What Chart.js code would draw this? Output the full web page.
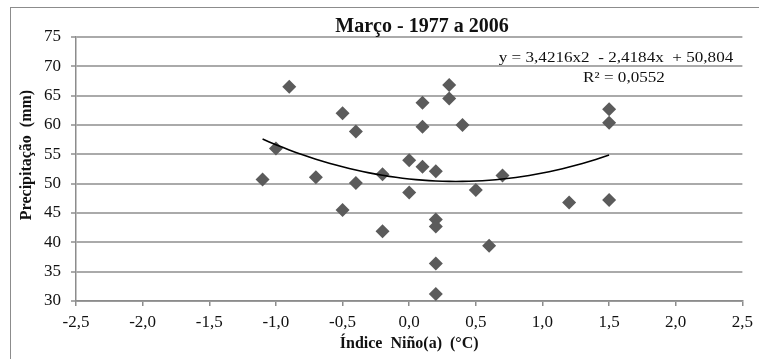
<!DOCTYPE html>
<html>
<head>
<meta charset="utf-8">
<script src="https://cdn.jsdelivr.net/npm/chart.js@4/dist/chart.umd.min.js"></script>
<style>
  body { margin: 0; background: #fff; }
  canvas { display: block; }
</style>
</head>
<body>
<canvas id="Chart" width="759" height="359"></canvas>
<script>
// Niño index (°C) vs March precipitation (mm), 1977-2006
const ninoIndex = [-1.1, -1.0, -0.9, -0.7, -0.5, -0.5, -0.4, -0.4, -0.2, -0.2,
  0.0, 0.0, 0.1, 0.1, 0.1, 0.2, 0.2, 0.2, 0.2, 0.2,
  0.3, 0.3, 0.4, 0.5, 0.6, 0.7, 1.2, 1.5, 1.5, 1.5];
const precip = [50.7, 56.0, 66.5, 51.1, 62.0, 45.5, 58.9, 50.1, 51.6, 41.9,
  54.0, 48.5, 52.9, 63.8, 59.7, 52.1, 43.9, 42.7, 36.4, 31.2,
  66.8, 64.5, 60.0, 48.9, 39.4, 51.4, 46.8, 62.7, 60.4, 47.2];

// polynomial trendline shown on the chart: y = a*x^2 + b*x + c
const trendCoef = [3.4216, -2.4184, 50.804];
const trendRange = [-1.1, 1.5];

const chartTitle = "Março - 1977 a 2006";
const xTitle = "Índice  Niño(a)  (°C)";
const yTitle = "Precipitação  (mm)";
const eqText = "y = 3,4216x2  - 2,4184x  + 50,804";
const r2Text = "R² = 0,0552";

const serif = "'Liberation Serif', 'Times New Roman', serif";

function trendPoints() {
  const pts = [];
  for (let i = 0; i <= 52; i++) {
    const x = trendRange[0] + (trendRange[1] - trendRange[0]) * i / 52;
    pts.push({ x: x, y: trendCoef[0] * x * x + trendCoef[1] * x + trendCoef[2] });
  }
  return pts;
}

const textPlugin = {
  id: "texts",
  beforeDraw(chart) {
    const ctx = chart.ctx;
    ctx.save();
    ctx.strokeStyle = "#8c8c8c";
    ctx.lineWidth = 1;
    ctx.strokeRect(10.5, 7.5, 800, 400);
    ctx.restore();
  },
  afterDraw(chart) {
    const ctx = chart.ctx;
    const a = chart.chartArea;
    ctx.save();
    ctx.fillStyle = "#111";
    ctx.textAlign = "center";
    ctx.textBaseline = "middle";
    ctx.font = "bold 20px " + serif;
    ctx.fillText(chartTitle, 422, 27);
    ctx.font = "bold 16px " + serif;
    ctx.fillText(xTitle, (a.left + a.right) / 2, 344);
    ctx.save();
    ctx.translate(27, 155);
    ctx.rotate(-Math.PI / 2);
    ctx.fillText(yTitle, 0, 0);
    ctx.restore();
    // equation label, drawn a bit wide like the original
    ctx.font = "15px " + serif;
    ctx.save();
    ctx.translate(616, 58);
    ctx.scale(1.14, 1);
    ctx.fillText(eqText, 0, 0);
    ctx.restore();
    ctx.save();
    ctx.translate(624, 78);
    ctx.scale(1.14, 1);
    ctx.fillText(r2Text, 0, 0);
    ctx.restore();
    ctx.restore();
  }
};

const c = document.getElementById("Chart");
new Chart(c, {
  type: "scatter",
  data: {
    datasets: [
      {
        type: "line",
        data: trendPoints(),
        borderColor: "#000",
        borderWidth: 1.6,
        pointRadius: 0,
        fill: false,
        tension: 0,
      },
      {
        data: ninoIndex.map((x, i) => ({ x: x, y: precip[i] })),
        pointStyle: "rectRot",
        pointRadius: 7,
        backgroundColor: "#5b5b5b",
        borderWidth: 0,
      },
    ],
  },
  options: {
    responsive: false,
    animation: false,
    layout: { padding: { top: 37, left: 10, right: 12, bottom: 0 } },
    plugins: {
      legend: { display: false },
      tooltip: { enabled: false },
    },
    scales: {
      x: {
        type: "linear",
        min: -2.5,
        max: 2.5,
        afterFit: (s) => { s.height = 58; },
        ticks: {
          stepSize: 0.5,
          maxRotation: 0,
          autoSkip: false,
          padding: 6,
          color: "#111",
          font: { family: serif, size: 17 },
          callback: (v) => v.toFixed(1).replace(".", ","),
        },
        grid: { drawOnChartArea: false, tickLength: 5, color: "#8c8c8c", lineWidth: 1.5 },
        border: { color: "#8c8c8c", width: 1.5 },
      },
      y: {
        min: 30,
        max: 75,
        afterFit: (s) => { s.width = 66; },
        ticks: {
          stepSize: 5,
          padding: 10,
          color: "#111",
          font: { family: serif, size: 17 },
        },
        grid: { tickLength: 5, color: "#aaaaaa", lineWidth: 2 },
        border: { color: "#8c8c8c", width: 1.5 },
      },
    },
  },
  plugins: [textPlugin],
});
</script>
</body>
</html>
